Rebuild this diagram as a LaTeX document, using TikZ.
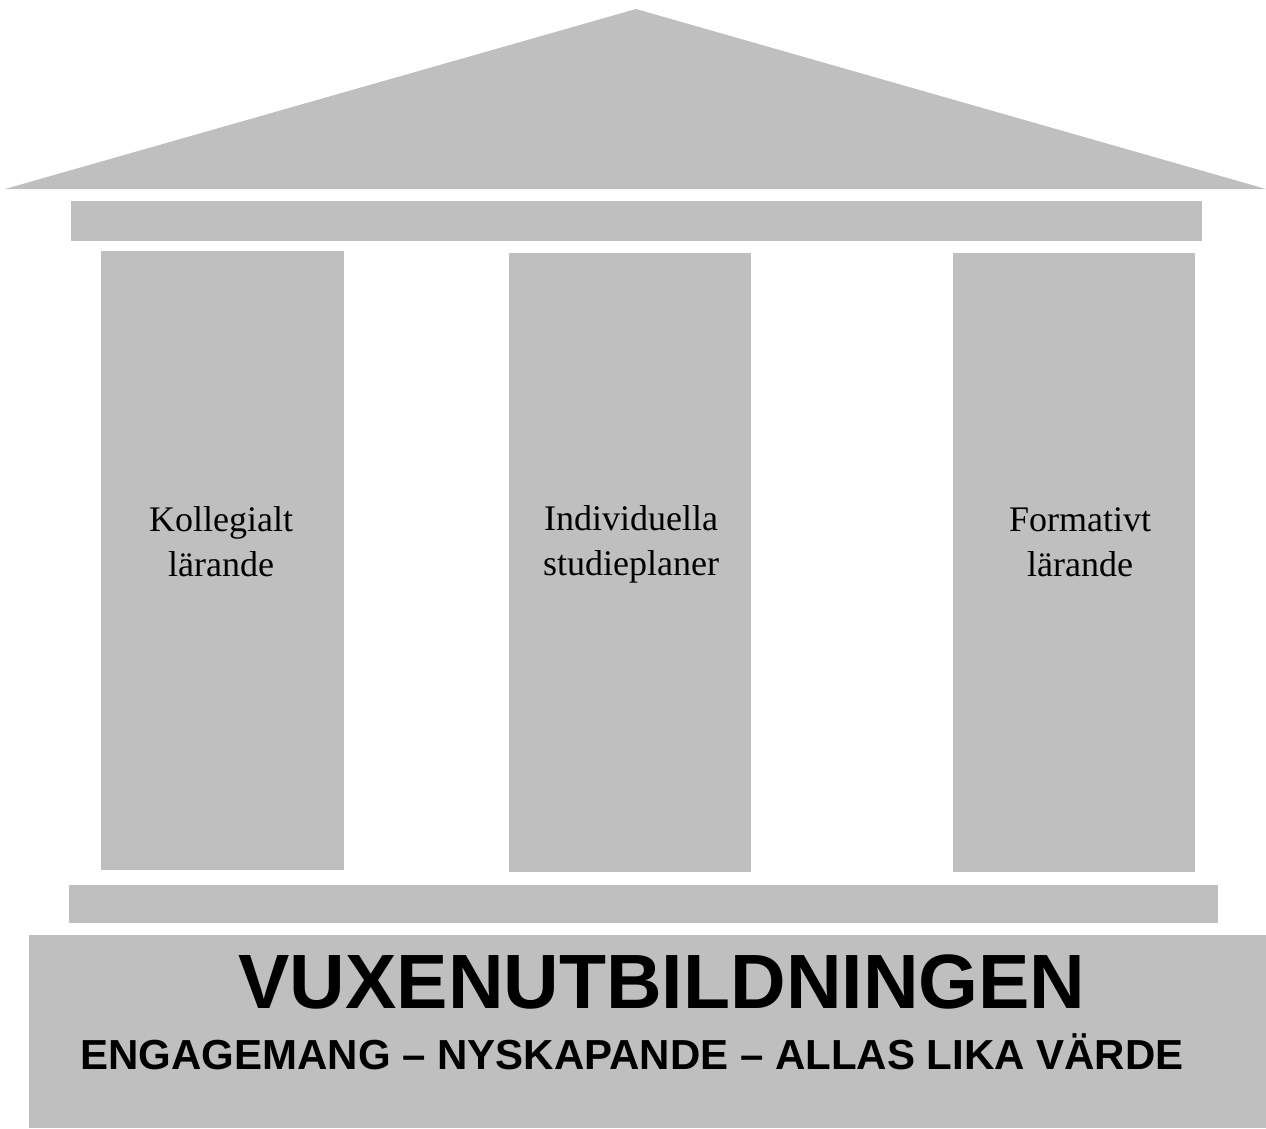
\documentclass[tikz,border=0pt]{standalone}
\usepackage{fontspec}
\setmainfont{Liberation Serif}
\newfontfamily\headfont{Liberation Sans}
\usetikzlibrary{positioning}
\definecolor{stone}{RGB}{191,191,191}

\begin{document}
\begin{tikzpicture}[x=1pt,y=-1pt,
    pillartext/.style={align=center, inner sep=0pt, font=\fontsize{36}{45}\selectfont},
    basetext/.style={anchor=base, inner sep=0pt}]
          \useasboundingbox (0,0) rectangle (1266,1128);

          % roof and beam
          \fill[stone] (5,189) -- (636,9) -- (1266,189) -- cycle;
          \fill[stone] (71,201) rectangle (1202,241);

          % pillars
          \fill[stone] (101,251) rectangle (344,870);
          \fill[stone] (509,253) rectangle (751,872);
          \fill[stone] (953,253) rectangle (1195,872);

          % step and foundation
          \fill[stone] (69,885) rectangle (1218,923);
          \fill[stone] (29,935) rectangle (1266,1128);

          \node[pillartext] (kollegialt) at (221,542) {Kollegialt\\lärande};
          \node[pillartext] (individuella) at (631,544) {Individuella\\studieplaner};
          \node[pillartext] (formativt) at (1080,542) {Formativt\\lärande};

          \node[basetext, font=\headfont\bfseries\fontsize{77}{80}\selectfont] (vux) at (662,1008) {VUXENUTBILDNINGEN};
          \node[basetext, font=\headfont\bfseries\fontsize{42}{46}\selectfont] (motto) at (632,1069) {ENGAGEMANG – NYSKAPANDE – ALLAS LIKA VÄRDE};
        \end{tikzpicture}
\end{document}
